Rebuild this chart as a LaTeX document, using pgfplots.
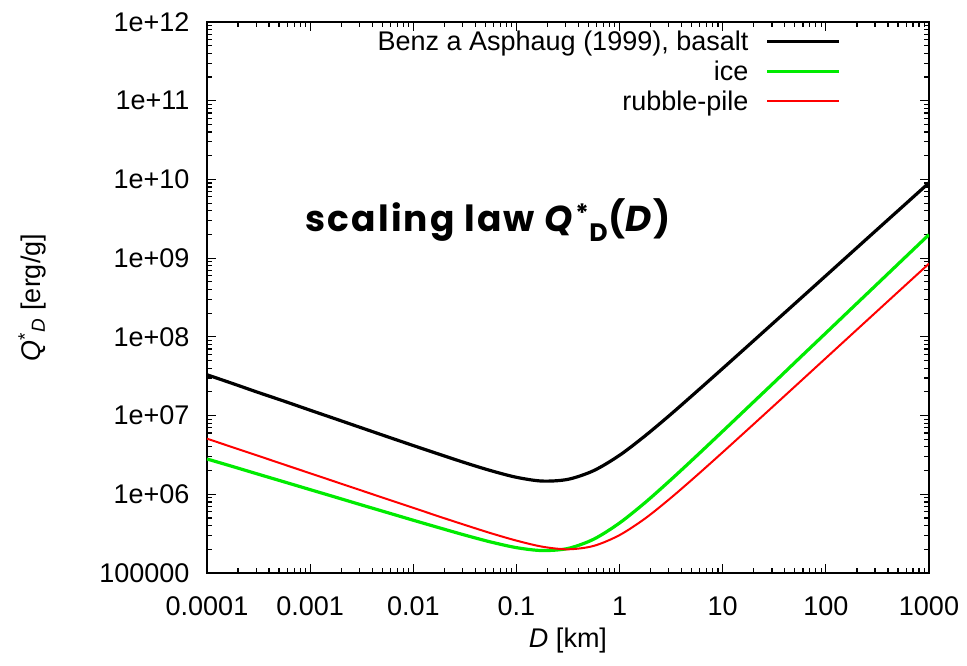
\documentclass[border=0pt]{standalone}
\usepackage{fontspec}
\setmainfont{Liberation Sans}
\newfontfamily\titlefont{Poppins}
\usepackage{pgfplots}
\pgfplotsset{compat=1.18}
\definecolor{gpgreen}{RGB}{0,235,0}
\definecolor{gpred}{RGB}{255,0,0}
\begin{document}
\begin{tikzpicture}
\useasboundingbox (-207pt,-92pt) rectangle (760pt,573pt);
\begin{axis}[
  scale only axis,
  width=722pt, height=551pt,
  xmode=log, ymode=log,
  xmin=1e-4, xmax=1000, ymin=1e5, ymax=1e12,
  axis line style={line width=1.6pt},
  every tick/.style={black, line width=1.2pt},
  major tick length=9pt, minor tick length=5pt,
  xtick={1e-4,1e-3,1e-2,1e-1,1,10,100,1000},
  xticklabels={0.0001,0.001,0.01,0.1,1,10,100,1000},
  ytick={1e5,1e6,1e7,1e8,1e9,1e10,1e11,1e12},
  yticklabels={100000,1e+06,1e+07,1e+08,1e+09,1e+10,1e+11,1e+12},
  tick label style={font=\fontsize{27}{31}\selectfont},
  xticklabel style={yshift=-20pt},
  yticklabel style={xshift=-14pt},
  xlabel={\textit{D} [km]},
  ylabel={\textit{Q}\textsuperscript{*}\textsubscript{\textit{D}} [erg/g]},
  every axis x label/.style={at={(axis description cs:0.5,-0.122)}, anchor=center,
    font=\fontsize{27}{31}\selectfont},
  every axis y label/.style={at={(axis description cs:-0.242,0.5)}, rotate=90, anchor=center,
    font=\fontsize{27}{31}\selectfont},
  legend style={draw=none, fill=none, font=\fontsize{27}{31}\selectfont,
    at={(rel axis cs:0.882,0.992)}, anchor=north east,
    cells={anchor=east}, row sep=5pt,
    /tikz/every odd column/.append style={column sep=15pt}},
  legend plot pos=right,
  legend image code/.code={\draw[#1] (0pt,0pt) -- (72pt,0pt);},
]
% basalt
\addplot[black, line width=3.2pt, smooth] coordinates {
(1e-4,3.30e7) (1.778e-4,2.55e7) (3.162e-4,1.96e7) (5.623e-4,1.52e7)
(1e-3,1.17e7) (1.778e-3,9.04e6) (3.162e-3,6.97e6) (5.623e-3,5.38e6)
(1e-2,4.16e6) (1.778e-2,3.23e6) (3.162e-2,2.52e6) (5.623e-2,2.00e6)
(0.1,1.644e6) (0.1778,1.472e6) (0.3162,1.549e6) (0.5623,2.00e6)
(1,3.13e6) (1.778,5.56e6) (3.162,1.047e7) (5.623,2.03e7)
(10,3.97e7) (17.78,7.80e7) (31.62,1.538e8) (56.23,3.03e8)
(100,5.98e8) (177.8,1.180e9) (316.2,2.33e9) (562.3,4.59e9)
(1000,9.06e9)};
% ice
\addplot[gpgreen, line width=3.2pt, smooth] coordinates {
(1e-4,2.81e6) (1.778e-4,2.25e6) (3.162e-4,1.795e6) (5.623e-4,1.435e6)
(1e-3,1.146e6) (1.778e-3,9.16e5) (3.162e-3,7.31e5) (5.623e-3,5.85e5)
(1e-2,4.68e5) (1.778e-2,3.76e5) (3.162e-2,3.03e5) (5.623e-2,2.48e5)
(0.1,2.10e5) (0.1778,1.928e5) (0.3162,2.05e5) (0.5623,2.69e5)
(1,4.32e5) (1.778,7.89e5) (3.162,1.542e6) (5.623,3.10e6)
(10,6.32e6) (17.78,1.294e7) (31.62,2.65e7) (56.23,5.46e7)
(100,1.119e8) (177.8,2.30e8) (316.2,4.72e8) (562.3,9.70e8)
(1000,1.99e9)};
% rubble-pile
\addplot[gpred, line width=2pt, smooth] coordinates {
(1e-4,5.09e6) (1.778e-4,3.95e6) (3.162e-4,3.07e6) (5.623e-4,2.38e6)
(1e-3,1.849e6) (1.778e-3,1.435e6) (3.162e-3,1.114e6) (5.623e-3,8.65e5)
(1e-2,6.73e5) (1.778e-2,5.22e5) (3.162e-2,4.08e5) (5.623e-2,3.21e5)
(0.1,2.58e5) (0.1778,2.16e5) (0.3162,2.00e5) (0.5623,2.21e5)
(1,3.03e5) (1.778,4.95e5) (3.162,9.06e5) (5.623,1.742e6)
(10,3.42e6) (17.78,6.78e6) (31.62,1.349e7) (56.23,2.69e7)
(100,5.37e7) (177.8,1.072e8) (316.2,2.14e8) (562.3,4.27e8)
(1000,8.51e8)};
\legend{{Benz a Asphaug (1999), basalt}, ice, rubble-pile}
\node[anchor=base west, font={\titlefont\bfseries\fontsize{36}{40}\selectfont\addfontfeature{LetterSpace=6}}]
  at (rel axis cs:0.1316,0.619)
  {scaling law \textit{Q}\textsuperscript{*}\textsubscript{D}(\textit{D})};
\end{axis}
\end{tikzpicture}
\end{document}
